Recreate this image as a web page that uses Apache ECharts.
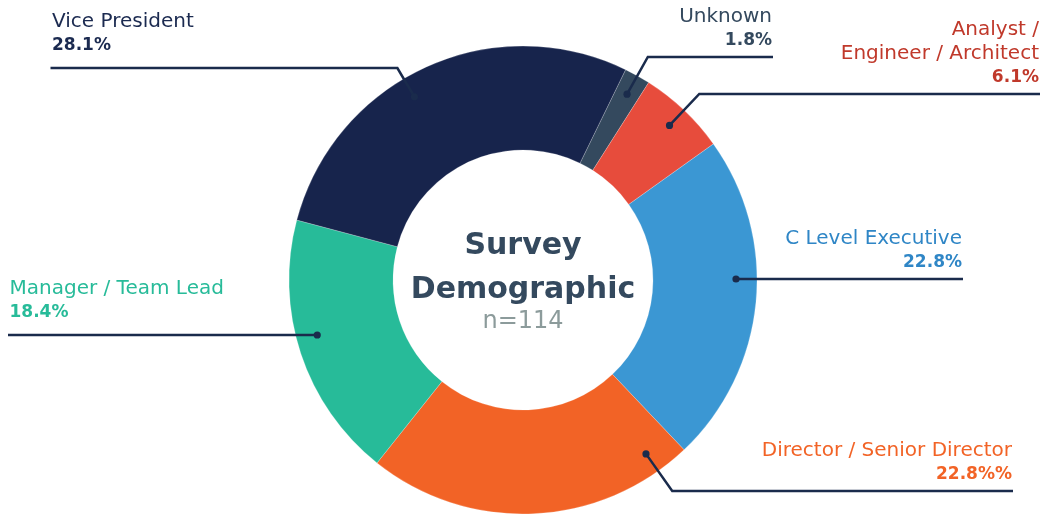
<!DOCTYPE html>
<html>
<head>
<meta charset="utf-8">
<script src="https://cdn.jsdelivr.net/npm/echarts@6/dist/echarts.min.js"></script>
<style>
  html, body { margin: 0; padding: 0; background: #ffffff; }
  #chart { width: 1040px; height: 514px; }
</style>
</head>
<body>
<div id="chart"></div>
<script>
// Survey respondents by role (share of n = 114), clockwise from the top
const categories = ['Unknown', 'Analyst /\nEngineer / Architect', 'C Level Executive',
                    'Director / Senior Director', 'Manager / Team Lead', 'Vice President'];
const shares = [1.8, 6.1, 22.8, 22.8, 18.4, 28.1];
const shareSuffix = ['%', '%', '%', '%%', '%', '%'];
const sliceColors = ['#34495e', '#e74c3c', '#3b97d3', '#f26326', '#27bb99', '#17244c'];
const labelColors = ['#34495e', '#c0392b', '#2f86c6', '#f26326', '#27bb99', '#1b2a50'];
const centerTitle = ['Survey', 'Demographic'];
const centerNote = 'n=114';

// Layout
const FONT = '"DejaVu Sans", sans-serif';
const CENTER = [523, 280];
const RADIUS = [130, 234];
const START_ANGLE = 64;      // ECharts convention: degrees counter-clockwise from 3 o'clock
const ANCHOR_R = 213;        // radius where each leader line starts (the dot)
const LINE_COLOR = '#1a2b4c';
// where each callout sits: position along its slice, height of the horizontal run, its far end
const callouts = [
  { along: 0.50, lineY: 57,   endX: 773,  side: 'right' },
  { along: 0.50, lineY: 94,   endX: 1040, side: 'right' },
  { along: 0.43, lineY: null, endX: 963,  side: 'right' },
  { along: 0.10, lineY: 491,  endX: 1013, side: 'right' },
  { along: 0.55, lineY: null, endX: 8,    side: 'left'  },
  { along: 0.44, lineY: 68,   endX: 50.5, side: 'left'  }
];

const total = shares.reduce((a, b) => a + b, 0);

// clockwise angle from 12 o'clock for a fraction of slice i
function sliceAngle(i, frac) {
  let before = 0;
  for (let k = 0; k < i; k++) before += shares[k];
  return (90 - START_ANGLE) + (before + shares[i] * frac) / total * 360;
}
function polar(deg, r) {
  const t = deg * Math.PI / 180;
  return [CENTER[0] + r * Math.sin(t), CENTER[1] - r * Math.cos(t)];
}
function calloutGeom(i) {
  const c = callouts[i];
  const deg = sliceAngle(i, c.along);
  const dot = polar(deg, ANCHOR_R);
  let elbow = dot.slice();
  let lineY = dot[1];
  if (c.lineY != null) {
    // run outward along the radius until the horizontal run's height
    const r = (CENTER[1] - c.lineY) / Math.cos(deg * Math.PI / 180);
    elbow = polar(deg, r);
    lineY = c.lineY;
  }
  return { dot, elbow, end: [c.endX, lineY], side: c.side, lineY };
}

const nameStyle = { fontFamily: FONT, fontSize: 20, lineHeight: 24 };
const valueStyle = { fontFamily: FONT, fontSize: 17, fontWeight: 'bold', lineHeight: 24 };

// leader lines and their dots, drawn over the ring
const leaders = [];
categories.forEach((_, i) => {
  const g = calloutGeom(i);
  leaders.push({
    type: 'polyline', z: 100, silent: true,
    shape: { points: [g.dot, g.elbow, g.end] },
    style: { stroke: LINE_COLOR, lineWidth: 2.5, fill: null, lineJoin: 'miter' }
  });
  leaders.push({
    type: 'circle', z: 101, silent: true,
    shape: { cx: g.dot[0], cy: g.dot[1], r: 3.6 },
    style: { fill: LINE_COLOR }
  });
});

const chart = echarts.init(document.getElementById('chart'), null, { renderer: 'canvas' });
chart.setOption({
  backgroundColor: '#ffffff',
  animation: false,
  series: [{
    type: 'pie',
    center: CENTER,
    radius: RADIUS,
    startAngle: START_ANGLE,
    clockwise: true,
    avoidLabelOverlap: false,
    itemStyle: { borderColor: 'rgba(255,255,255,0.35)', borderWidth: 0.6 },
    label: {
      show: true,
      position: 'outside',
      formatter: p => {
        const s = callouts[p.dataIndex].side === 'left' ? 'L' : 'R';
        return '{n' + s + '|' + p.name + '}\n{v' + s + '|' + p.value + shareSuffix[p.dataIndex] + '}';
      },
      rich: {
        nL: Object.assign({ align: 'left' }, nameStyle),
        vL: Object.assign({ align: 'left' }, valueStyle),
        nR: Object.assign({ align: 'right' }, nameStyle),
        vR: Object.assign({ align: 'right' }, valueStyle)
      }
    },
    labelLine: { show: false },
    labelLayout: params => {
      const g = calloutGeom(params.dataIndex);
      const right = g.side === 'right';
      return {
        x: g.end[0] + (right ? -1 : 1.5),
        y: g.lineY - (right ? 4 : 10.5),
        align: right ? 'right' : 'left',
        verticalAlign: 'bottom'
      };
    },
    emphasis: { disabled: true },
    data: categories.map((name, i) => ({
      name: name,
      value: shares[i],
      itemStyle: { color: sliceColors[i] },
      label: { color: labelColors[i] }
    }))
  }],
  graphic: leaders.concat([
    {
      type: 'text', z: 100, silent: true, x: CENTER[0], y: 246,
      style: { text: centerTitle[0], fill: '#34495e', font: 'bold 30px ' + FONT, align: 'center', verticalAlign: 'middle' }
    },
    {
      type: 'text', z: 100, silent: true, x: CENTER[0], y: 290,
      style: { text: centerTitle[1], fill: '#34495e', font: 'bold 30px ' + FONT, align: 'center', verticalAlign: 'middle' }
    },
    {
      type: 'text', z: 100, silent: true, x: CENTER[0], y: 322,
      style: { text: centerNote, fill: '#8c9b9b', font: '24px ' + FONT, align: 'center', verticalAlign: 'middle' }
    }
  ])
});
</script>
</body>
</html>
